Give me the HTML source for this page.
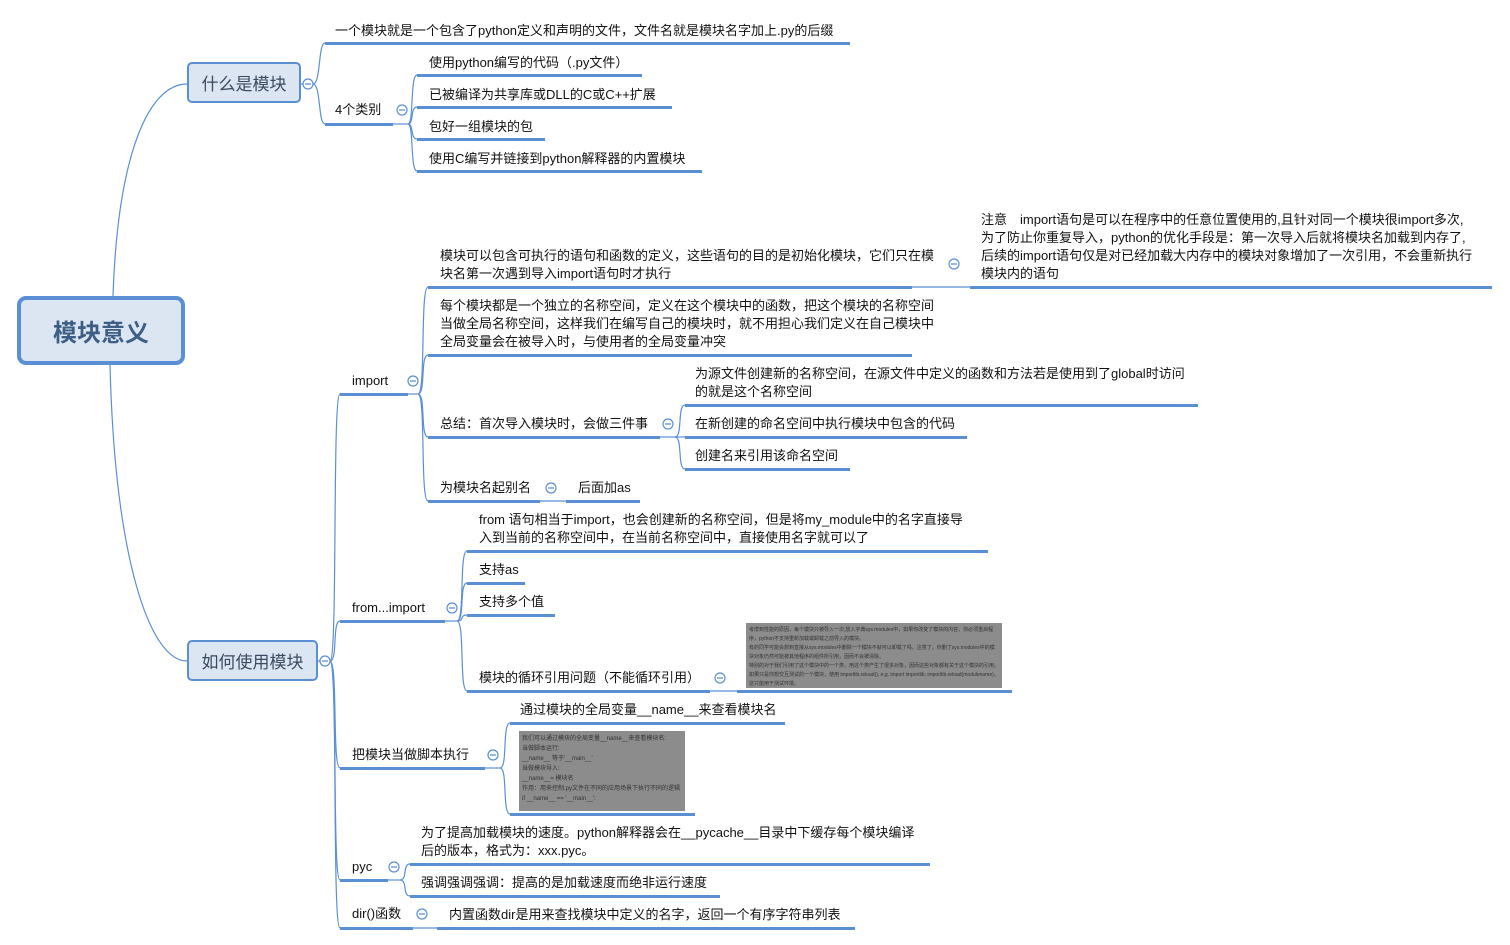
<!DOCTYPE html>
<html><head><meta charset="utf-8"><style>
body{margin:0;width:1510px;height:945px;background:#fff;position:relative;overflow:hidden;font-family:"Liberation Sans","Noto Sans CJK SC",sans-serif;}
.t{position:absolute;font-size:13px;line-height:18px;color:#111;white-space:nowrap;}
.u{position:absolute;height:3px;background:#5b8fd4;}
.box{position:absolute;background:#dce6f2;border:2px solid #5b8fd4;border-radius:5px;box-sizing:border-box;color:#3a4a60;font-size:17px;display:flex;align-items:center;justify-content:center;}
.img{position:absolute;background:#8c8c8c;font-size:5px;line-height:9px;color:#333;padding:3px;box-sizing:border-box;overflow:hidden;}
svg{position:absolute;left:0;top:0;}
</style></head><body>
<svg width="1510" height="945" fill="none" stroke="#5b8fd4" stroke-width="1.2">
<path d="M113 296 C118 150 150 84 187 84"/>
<path d="M110 365 C115 560 150 661 187 661"/>
<path d="M301 84 H303"/>
<path d="M313 84 C321 84 318 43 325 43"/><path d="M313 84 C321 84 318 124 325 124"/>
<path d="M393 124 H408"/>
<path d="M408 124 C414 124 410 75 417 75"/><path d="M408 124 C414 124 410 107 417 107"/><path d="M408 124 C414 124 410 139 417 139"/><path d="M408 124 C414 124 410 171 417 171"/>
<path d="M318 661 H320"/>
<path d="M330 661 C338 661 332 394 340 394"/><path d="M330 661 C338 661 332 621 340 621"/><path d="M330 661 C338 661 332 768 340 768"/><path d="M330 661 C338 661 332 880 340 880"/><path d="M330 661 C338 661 332 928 340 928"/>
<path d="M408 394 H418"/>
<path d="M418 394 C426 394 420 287 428 287"/><path d="M418 394 C426 394 420 355 428 355"/><path d="M418 394 C426 394 420 437 428 437"/><path d="M418 394 C426 394 420 501 428 501"/>
<path d="M912 287 H970"/>
<path d="M660 437 H675"/>
<path d="M675 437 C683 437 677 405 685 405"/><path d="M675 437 C683 437 677 469 685 469"/><path d="M675 437 H685"/>
<path d="M540 501 H566"/>
<path d="M445 621 H457"/>
<path d="M457 621 C465 621 459 551 467 551"/><path d="M457 621 C465 621 459 583 467 583"/><path d="M457 621 C465 621 459 615 467 615"/><path d="M457 621 C465 621 459 691 467 691"/>
<path d="M710 691 H737"/>
<path d="M485 768 H500"/>
<path d="M500 768 C508 768 502 723 510 723"/><path d="M500 768 C508 768 502 814 510 814"/>
<path d="M388 880 H400"/>
<path d="M400 880 C408 880 402 864 410 864"/><path d="M400 880 C408 880 402 896 410 896"/>
<path d="M413 928 H437"/>
<g fill="#fff">
<circle cx="308" cy="84" r="5"/><circle cx="402" cy="110" r="5"/><circle cx="325" cy="661" r="5"/><circle cx="413" cy="381" r="5"/><circle cx="954" cy="264" r="5"/><circle cx="668" cy="424" r="5"/><circle cx="551" cy="488" r="5"/><circle cx="452" cy="608" r="5"/><circle cx="720" cy="678" r="5"/><circle cx="493" cy="755" r="5"/><circle cx="394" cy="867" r="5"/><circle cx="422" cy="914" r="5"/>
</g>
<g>
<path d="M305 84h6M399 110h6M322 661h6M410 381h6M951 264h6M665 424h6M548 488h6M449 608h6M717 678h6M490 755h6M391 867h6M419 914h6"/>
</g>
</svg>

<div class="box" style="left:17px;top:296px;width:168px;height:69px;border-width:4px;border-radius:9px;font-size:24px;font-weight:bold;color:#3d5f86;">模块意义</div>
<div class="box" style="left:187px;top:62px;width:114px;height:41px;">什么是模块</div>
<div class="box" style="left:187px;top:640px;width:131px;height:41px;">如何使用模块</div>

<div class="t" style="left:335px;top:22px">一个模块就是一个包含了python定义和声明的文件，文件名就是模块名字加上.py的后缀</div><div class="u" style="left:325px;top:42px;width:525px"></div>
<div class="t" style="left:335px;top:101px">4个类别</div><div class="u" style="left:325px;top:123px;width:68px"></div>
<div class="t" style="left:429px;top:54px">使用python编写的代码（.py文件）</div><div class="u" style="left:417px;top:74px;width:225px"></div>
<div class="t" style="left:429px;top:86px">已被编译为共享库或DLL的C或C++扩展</div><div class="u" style="left:417px;top:106px;width:255px"></div>
<div class="t" style="left:429px;top:118px">包好一组模块的包</div><div class="u" style="left:417px;top:138px;width:128px"></div>
<div class="t" style="left:429px;top:150px">使用C编写并链接到python解释器的内置模块</div><div class="u" style="left:417px;top:170px;width:285px"></div>

<div class="t" style="left:352px;top:372px">import</div><div class="u" style="left:340px;top:393px;width:68px"></div>
<div class="t" style="left:440px;top:247px">模块可以包含可执行的语句和函数的定义，这些语句的目的是初始化模块，它们只在模<br>块名第一次遇到导入import语句时才执行</div><div class="u" style="left:428px;top:286px;width:484px"></div>
<div class="t" style="left:981px;top:211px">注意　import语句是可以在程序中的任意位置使用的,且针对同一个模块很import多次,<br>为了防止你重复导入，python的优化手段是：第一次导入后就将模块名加载到内存了,<br>后续的import语句仅是对已经加载大内存中的模块对象增加了一次引用，不会重新执行<br>模块内的语句</div><div class="u" style="left:970px;top:286px;width:522px"></div>
<div class="t" style="left:440px;top:297px">每个模块都是一个独立的名称空间，定义在这个模块中的函数，把这个模块的名称空间<br>当做全局名称空间，这样我们在编写自己的模块时，就不用担心我们定义在自己模块中<br>全局变量会在被导入时，与使用者的全局变量冲突</div><div class="u" style="left:428px;top:354px;width:484px"></div>
<div class="t" style="left:440px;top:415px">总结：首次导入模块时，会做三件事</div><div class="u" style="left:428px;top:436px;width:232px"></div>
<div class="t" style="left:695px;top:365px">为源文件创建新的名称空间，在源文件中定义的函数和方法若是使用到了global时访问<br>的就是这个名称空间</div><div class="u" style="left:685px;top:404px;width:513px"></div>
<div class="t" style="left:695px;top:415px">在新创建的命名空间中执行模块中包含的代码</div><div class="u" style="left:685px;top:436px;width:282px"></div>
<div class="t" style="left:695px;top:447px">创建名来引用该命名空间</div><div class="u" style="left:685px;top:468px;width:165px"></div>
<div class="t" style="left:440px;top:479px">为模块名起别名</div><div class="u" style="left:428px;top:500px;width:112px"></div>
<div class="t" style="left:578px;top:479px">后面加as</div><div class="u" style="left:566px;top:500px;width:74px"></div>

<div class="t" style="left:352px;top:599px">from...import</div><div class="u" style="left:340px;top:620px;width:105px"></div>
<div class="t" style="left:479px;top:511px">from 语句相当于import，也会创建新的名称空间，但是将my_module中的名字直接导<br>入到当前的名称空间中，在当前名称空间中，直接使用名字就可以了</div><div class="u" style="left:467px;top:550px;width:521px"></div>
<div class="t" style="left:479px;top:561px">支持as</div><div class="u" style="left:467px;top:582px;width:58px"></div>
<div class="t" style="left:479px;top:593px">支持多个值</div><div class="u" style="left:467px;top:614px;width:88px"></div>
<div class="t" style="left:479px;top:669px">模块的循环引用问题（不能循环引用）</div><div class="u" style="left:467px;top:690px;width:243px"></div>
<div class="img" style="left:746px;top:623px;width:256px;height:65px">考虑到性能的原因，每个模块只被导入一次,放入字典sys.modules中，如果你改变了模块的内容，你必须重启程序，python不支持重新加载或卸载之前导入的模块。<br>有的同学可能会想到直接从sys.modules中删除一个模块不就可以卸载了吗，注意了，你删了sys.modules中的模块对象仍然可能被其他程序的组件所引用，因而不会被清除。<br>特别的对于我们引用了这个模块中的一个类，用这个类产生了很多对象，因而这些对象都有关于这个模块的引用。<br>如果只是你想交互测试的一个模块，使用 importlib.reload(), e.g. import importlib; importlib.reload(modulename)，这只能用于测试环境。</div><div class="u" style="left:737px;top:690px;width:275px"></div>

<div class="t" style="left:352px;top:746px">把模块当做脚本执行</div><div class="u" style="left:340px;top:767px;width:145px"></div>
<div class="t" style="left:520px;top:701px">通过模块的全局变量__name__来查看模块名</div><div class="u" style="left:510px;top:722px;width:275px"></div>
<div class="img" style="left:519px;top:731px;width:166px;height:80px;font-size:6px;line-height:10px">我们可以通过模块的全局变量__name__来查看模块名:<br>当做脚本运行:<br>__name__ 等于'__main__'<br>当做模块导入:<br>__name__= 模块名<br>作用：用来控制.py文件在不同的应用场景下执行不同的逻辑<br>if __name__ == '__main__':</div><div class="u" style="left:510px;top:813px;width:185px"></div>

<div class="t" style="left:352px;top:858px">pyc</div><div class="u" style="left:340px;top:879px;width:48px"></div>
<div class="t" style="left:421px;top:824px">为了提高加载模块的速度。python解释器会在__pycache__目录中下缓存每个模块编译<br>后的版本，格式为：xxx.pyc。</div><div class="u" style="left:410px;top:863px;width:520px"></div>
<div class="t" style="left:421px;top:874px">强调强调强调：提高的是加载速度而绝非运行速度</div><div class="u" style="left:410px;top:895px;width:310px"></div>

<div class="t" style="left:352px;top:905px">dir()函数</div><div class="u" style="left:340px;top:927px;width:73px"></div>
<div class="t" style="left:449px;top:906px">内置函数dir是用来查找模块中定义的名字，返回一个有序字符串列表</div><div class="u" style="left:437px;top:927px;width:418px"></div>
</body></html>
